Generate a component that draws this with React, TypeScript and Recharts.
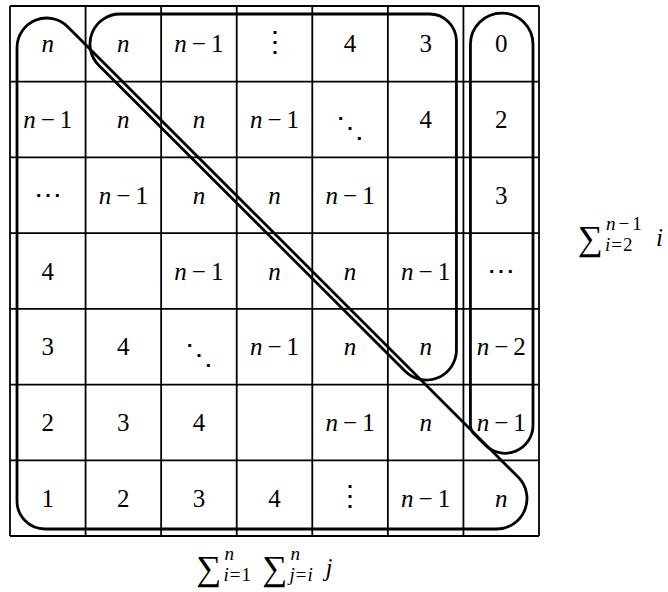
import React from "react";
import {
  ComposedChart,
  XAxis,
  YAxis,
  Scatter,
  ReferenceLine,
  ReferenceArea,
  Label,
} from "recharts";

// 7x7 table, top row first
const row0 = ["n", "n", "n−1", "⋮", "4", "3", "0"];
const row1 = ["n−1", "n", "n", "n−1", "⋱", "4", "2"];
const row2 = ["⋯", "n−1", "n", "n", "n−1", "", "3"];
const row3 = ["4", "", "n−1", "n", "n", "n−1", "⋯"];
const row4 = ["3", "4", "⋱", "n−1", "n", "n", "n−2"];
const row5 = ["2", "3", "4", "", "n−1", "n", "n−1"];
const row6 = ["1", "2", "3", "4", "⋮", "n−1", "n"];
const tableRows = [row0, row1, row2, row3, row4, row5, row6];

const gridTicks = [0, 1, 2, 3, 4, 5, 6, 7];

// groups circled on the table (in cell units)
const lowerGroup = { x1: 0, x2: 7, y1: 0, y2: 7 };
const upperGroup = { x1: 1, x2: 6, y1: 0, y2: 5 };
const lastColGroup = { x1: 6, x2: 7, y1: 0, y2: 6 };

const cells = tableRows.flatMap((r, ri) =>
  r.map((label, ci) => ({ x: ci + 0.5, y: ri + 0.5, label }))
);

const FONT = '"Liberation Serif", "DejaVu Serif", serif';
const K = 0.7071;

// vertical nudge for the dot glyphs
const dotShift: Record<string, number> = { "⋮": 7, "⋱": 17, "⋯": 9 };

const CellText = (props: any) => {
  const { cx, cy, payload } = props;
  const label: string = payload.label;
  if (!label) return <g />;
  if (dotShift[label] !== undefined) {
    return (
      <text x={cx} y={cy + dotShift[label]} textAnchor="middle" style={{ fontFamily: FONT, fontSize: 28 }} fill="#000">
        {label}
      </text>
    );
  }
  if (label.startsWith("n")) {
    const rest = label.slice(1);
    return (
      <text x={cx} y={cy + 8.5} textAnchor="middle" style={{ fontFamily: FONT, fontSize: 25 }} fill="#000">
        <tspan fontStyle="italic">n</tspan>
        {rest && <tspan dx={5}>−</tspan>}
        {rest && <tspan dx={5}>{rest.slice(1)}</tspan>}
      </text>
    );
  }
  return (
    <text x={cx} y={cy + 8.5} textAnchor="middle" style={{ fontFamily: FONT, fontSize: 25 }} fill="#000">
      {label}
    </text>
  );
};

const loopStyle = { fill: "none", stroke: "#000", strokeWidth: 2.8 };

const LowerLoop = ({ x, y, width, height }: any) => {
  const r1 = 29.7;
  const r2 = 30.4;
  const r = 28;
  const L = x + 7;
  const B = y + height - 7;
  const c1 = { x: L + r1, y: y + 12 + r1 };
  const c2 = { x: x + width - 12 - r2, y: B - r2 };
  const t1 = { x: c1.x + r1 * K, y: c1.y - r1 * K };
  const t2 = { x: c2.x + r2 * K, y: c2.y - r2 * K };
  const d = `M${t1.x},${t1.y} L${t2.x},${t2.y} A${r2},${r2} 0 0 1 ${c2.x},${B} L${L + r},${B} A${r},${r} 0 0 1 ${L},${B - r} L${L},${c1.y} A${r1},${r1} 0 0 1 ${t1.x},${t1.y} Z`;
  return <path d={d} {...loopStyle} />;
};

const UpperLoop = ({ x, y, width, height }: any) => {
  const T = y + 8;
  const R = x + width - 7;
  const r1 = 30;
  const c1 = { x: x + 34.4, y: T + r1 };
  const rc = 27;
  const r2 = 30;
  const c2 = { x: R - r2, y: y + height - 4.5 - r2 };
  const t1 = { x: c1.x - r1 * K, y: c1.y + r1 * K };
  const t2 = { x: c2.x - r2 * K, y: c2.y + r2 * K };
  const d = `M${c1.x},${T} L${R - rc},${T} A${rc},${rc} 0 0 1 ${R},${T + rc} L${R},${c2.y} A${r2},${r2} 0 0 1 ${t2.x},${t2.y} L${t1.x},${t1.y} A${r1},${r1} 0 0 1 ${c1.x},${T} Z`;
  return <path d={d} {...loopStyle} />;
};

const ColumnLoop = ({ x, y, width, height }: any) => {
  const Lx = x + 7;
  const Rx = x + width - 6;
  const rt = (Rx - Lx) / 2;
  const cy = y + 7 + rt;
  const r2 = 28;
  const c2 = { x: Rx - r2, y: y + height - 7 - r2 };
  const t2 = { x: c2.x - r2 * K, y: c2.y + r2 * K };
  const vy = t2.y - (t2.x - Lx);
  const r3 = 12;
  const dd = r3 * 0.4142;
  const d = `M${Lx},${cy} A${rt},${rt} 0 0 1 ${Rx},${cy} L${Rx},${c2.y} A${r2},${r2} 0 0 1 ${t2.x},${t2.y} L${Lx + dd * K},${vy + dd * K} A${r3},${r3} 0 0 1 ${Lx},${vy - dd} Z`;
  return <path d={d} {...loopStyle} />;
};

// big sigma with limits
const Sigma = ({ x, y, sup, sub }: any) => (
  <g fill="#000">
    <text x={x} y={y} style={{ fontFamily: FONT, fontSize: 35 }}>∑</text>
    <text x={x + 28} y={y - 20} style={{ fontFamily: FONT, fontSize: 19 }}>{sup}</text>
    <text x={x + 27} y={y + 1} style={{ fontFamily: FONT, fontSize: 19 }}>{sub}</text>
  </g>
);

const It = ({ children }: any) => <tspan fontStyle="italic">{children}</tspan>;

const BottomFormula = (props: any) => {
  const { x, y, width } = props.viewBox;
  const ax = x + width / 2 - 78;
  const ay = y + 44;
  return (
    <g>
      <Sigma x={ax} y={ay} sup={<It>n</It>} sub={<><It>i</It><tspan dx={1}>=</tspan><tspan dx={1}>1</tspan></>} />
      <Sigma x={ax + 66} y={ay} sup={<It>n</It>} sub={<><It>j</It><tspan dx={1}>=</tspan><tspan dx={1} fontStyle="italic">i</tspan></>} />
      <text x={ax + 129} y={ay - 4} style={{ fontFamily: FONT, fontSize: 25, fontStyle: "italic" }} fill="#000">j</text>
    </g>
  );
};

const RightFormula = (props: any) => {
  const { x, y, height } = props.viewBox;
  const ax = x + 39;
  const ay = y + height / 2 - 21;
  return (
    <g>
      <Sigma x={ax} y={ay} sup={<><It>n</It><tspan dx={3}>−</tspan><tspan dx={3}>1</tspan></>} sub={<><It>i</It><tspan dx={1}>=</tspan><tspan dx={1}>2</tspan></>} />
      <text x={ax + 78} y={ay - 4} style={{ fontFamily: FONT, fontSize: 25, fontStyle: "italic" }} fill="#000">i</text>
    </g>
  );
};

export default function App() {
  return (
    <div style={{ width: 668, height: 592, background: "#fff" }}>
      <style>{"body{margin:0}"}</style>
      <ComposedChart width={668} height={592} data={cells} margin={{ top: 6, right: 0, bottom: 0, left: 10 }}>
        <XAxis
          type="number"
          dataKey="x"
          domain={[0, 7]}
          ticks={gridTicks}
          tick={false}
          tickLine={false}
          axisLine={false}
          height={56}
        >
          <Label content={BottomFormula} />
        </XAxis>
        <YAxis
          type="number"
          dataKey="y"
          orientation="right"
          reversed
          domain={[0, 7]}
          ticks={gridTicks}
          tick={false}
          tickLine={false}
          axisLine={false}
          width={129}
        >
          <Label content={RightFormula} />
        </YAxis>
        {gridTicks.map((t) => (
          <ReferenceLine key={"v" + t} x={t} stroke="#000" strokeWidth={1.8} />
        ))}
        {gridTicks.map((t) => (
          <ReferenceLine key={"h" + t} y={t} stroke="#000" strokeWidth={1.8} />
        ))}
        <ReferenceArea {...lowerGroup} shape={LowerLoop} />
        <ReferenceArea {...upperGroup} shape={UpperLoop} />
        <ReferenceArea {...lastColGroup} shape={ColumnLoop} />
        <Scatter data={cells} dataKey="y" shape={CellText} isAnimationActive={false} />
      </ComposedChart>
    </div>
  );
}
